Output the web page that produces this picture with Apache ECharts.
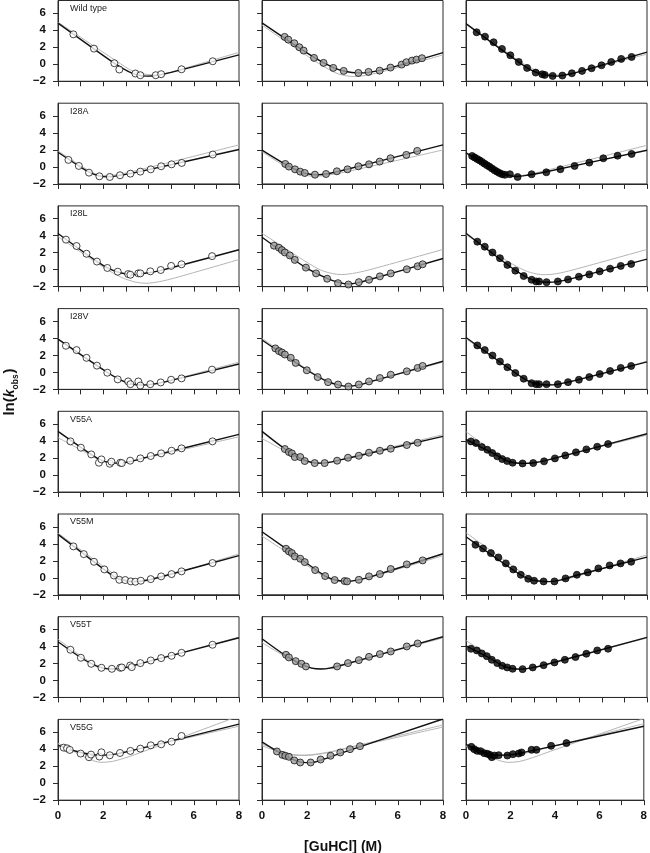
<!DOCTYPE html>
<html><head><meta charset="utf-8">
<script src="https://cdn.jsdelivr.net/npm/echarts@6/dist/echarts.min.js"></script>
<style>html,body{margin:0;padding:0;background:#fff}#c{width:650px;height:853px}</style>
</head><body><div id="c"></div>
<script>
// ---------------- DATA ----------------
const rowLabels = ['Wild type','I28A','I28L','I28V','V55A','V55M','V55T','V55G'];
const xTickValues = [0,1,2,3,4,5,6,7,8];
const xLabelValues = [0,2,4,6,8];
const yTickValues = [-2,0,2,4,6];
const xLabelText = '[GuHCl] (M)';

// Wild type
const WT_x = [
  [0.68,1.59,2.49,2.71,3.42,3.64,4.32,4.56,5.46,6.84],
  [1.0,1.16,1.43,1.65,1.84,2.30,2.72,3.15,3.61,4.26,4.71,5.20,5.68,6.17,6.38,6.63,6.83,7.07],
  [0.47,0.84,1.22,1.59,1.96,2.33,2.70,3.08,3.37,3.48,3.83,4.26,4.68,5.13,5.55,5.99,6.42,6.86,7.32]];
const WT_y = [
  [3.52,1.84,0.12,-0.62,-1.09,-1.29,-1.29,-1.17,-0.59,0.35],
  [3.22,2.90,2.47,2.0,1.61,0.75,0.16,-0.43,-0.78,-1.02,-0.90,-0.75,-0.39,-0.04,0.24,0.43,0.55,0.71],
  [3.76,3.25,2.59,1.80,1.06,0.27,-0.43,-0.98,-1.18,-1.25,-1.37,-1.33,-1.06,-0.78,-0.47,-0.12,0.27,0.63,0.86]];
const WT_fit = [
  [[0,4.84],[2.5,0.1],[3.1,-0.85],[3.5,-1.25],[3.9,-1.4],[4.4,-1.3],[5,-0.95],[8,1.1]],
  [[0,4.86],[2.3,0.8],[3.2,-0.45],[3.7,-0.85],[4.2,-1.02],[4.8,-0.92],[5.5,-0.55],[8,1.37]],
  [[0,4.78],[2.7,-0.43],[3.2,-1.05],[3.6,-1.3],[4.0,-1.4],[4.5,-1.2],[5.1,-0.8],[8,1.42]]];
const WT_gray = [
  [[[0,4.95],[2.6,0.35],[3.3,-0.8],[3.8,-1.15],[4.2,-1.25],[4.7,-1.1],[5.3,-0.7],[8,1.4]]],
  [[[0,4.6],[2.3,0.45],[3.2,-0.95],[3.7,-1.35],[4.1,-1.45],[4.7,-1.25],[5.5,-0.75],[8,1.1]]],
  [[[0,4.7],[2.7,-0.2],[3.3,-0.9],[3.7,-1.2],[4.1,-1.27],[4.6,-1.1],[5.2,-0.75],[8,1.2]]]];

// I28A
const I28A_x = [
  [0.46,0.92,1.37,1.83,2.29,2.74,3.20,3.64,4.10,4.56,5.02,5.47,6.84],
  [1.03,1.19,1.46,1.69,1.89,2.34,2.83,3.31,3.78,4.26,4.73,5.20,5.68,6.38,6.86],
  [0.27,0.38,0.49,0.60,0.71,0.82,0.93,1.04,1.15,1.26,1.37,1.48,1.60,1.72,1.94,2.28,2.90,3.55,4.17,4.80,5.45,6.07,6.70,7.32]];
const I28A_y = [
  [0.83,0.12,-0.67,-1.10,-1.18,-0.98,-0.79,-0.55,-0.28,0.08,0.31,0.47,1.46],
  [0.35,0.04,-0.28,-0.55,-0.71,-0.91,-0.83,-0.51,-0.28,0.08,0.31,0.63,1.02,1.42,1.89],
  [1.29,1.12,0.94,0.78,0.59,0.39,0.20,0.02,-0.18,-0.38,-0.55,-0.72,-0.86,-0.92,-0.86,-1.18,-0.86,-0.63,-0.27,0.12,0.51,1.02,1.33,1.53]];
const I28A_fit = [
  [[0,1.73],[0.9,0.15],[1.4,-0.65],[1.8,-1.05],[2.2,-1.17],[2.7,-1.0],[3.3,-0.72],[8,2.05]],
  [[0,1.97],[1.0,0.35],[1.6,-0.45],[2.0,-0.8],[2.4,-0.93],[2.9,-0.8],[3.5,-0.45],[8,2.6]],
  [[0,1.65],[0.8,0.45],[1.4,-0.55],[1.8,-0.95],[2.2,-1.12],[2.7,-0.98],[3.4,-0.65],[8,1.96]]];
const I28A_gray = [
  [[[0,1.9],[1,0.15],[1.6,-0.75],[2.0,-1.0],[2.5,-0.95],[3.2,-0.6],[8,2.6]]],
  [[[0,1.8],[1.0,0.1],[1.6,-0.7],[2.0,-1.02],[2.4,-1.1],[2.9,-0.95],[3.5,-0.7],[8,2.0]]],
  [[[0,1.6],[0.8,0.4],[1.4,-0.6],[1.8,-0.95],[2.2,-1.05],[2.7,-0.9],[3.4,-0.5],[8,2.55]]]];

// I28L
const I28L_x = [
  [0.35,0.82,1.26,1.72,2.18,2.64,3.10,3.20,3.55,3.64,4.08,4.54,5.0,5.46,6.81],
  [0.53,0.75,0.88,1.01,1.23,1.45,1.94,2.39,2.88,3.36,3.82,4.28,4.73,5.21,5.69,6.40,6.88,7.10],
  [0.50,0.83,1.17,1.50,1.83,2.18,2.55,2.90,3.10,3.23,3.56,4.06,4.51,4.99,5.45,5.91,6.37,6.84,7.30]];
const I28L_y = [
  [3.53,2.78,1.87,0.95,0.20,-0.24,-0.52,-0.60,-0.44,-0.44,-0.20,-0.04,0.44,0.63,1.59],
  [2.82,2.58,2.30,2.02,1.67,1.15,0.24,-0.44,-1.07,-1.59,-1.75,-1.47,-1.19,-0.79,-0.44,0.04,0.40,0.63],
  [3.29,2.70,2.02,1.35,0.56,-0.12,-0.75,-1.19,-1.39,-1.39,-1.47,-1.39,-1.15,-0.83,-0.56,-0.20,0.12,0.44,0.67]];
const I28L_fit = [
  [[0,4.25],[1.7,1.0],[2.3,0.05],[2.8,-0.4],[3.3,-0.58],[3.9,-0.4],[4.6,-0.05],[8,2.34]],
  [[0,3.81],[1.9,0.3],[2.9,-1.05],[3.4,-1.5],[3.8,-1.68],[4.3,-1.5],[5.0,-0.98],[8,1.31]],
  [[0,4.29],[2.2,-0.12],[2.8,-1.05],[3.2,-1.38],[3.6,-1.48],[4.1,-1.38],[4.8,-0.97],[8,1.23]]];
const I28L_gray = [
  [[[0,3.9],[2.0,0.3],[2.8,-0.9],[3.4,-1.45],[3.9,-1.6],[4.5,-1.4],[5.2,-0.95],[8,1.19]]],
  [[[0,4.29],[1.9,1.0],[2.6,-0.05],[3.1,-0.45],[3.5,-0.58],[4.0,-0.45],[4.7,-0.05],[8,2.38]]],
  [[[0,4.1],[1.9,0.9],[2.6,-0.1],[3.1,-0.5],[3.5,-0.6],[4.0,-0.47],[4.7,-0.05],[8,2.38]]]];

// I28V
const I28V_x = [
  [0.35,0.82,1.26,1.72,2.18,2.64,3.10,3.20,3.55,3.64,4.08,4.54,5.0,5.46,6.81],
  [0.59,0.75,0.88,1.01,1.27,1.49,1.98,2.46,2.92,3.36,3.82,4.28,4.73,5.21,5.69,6.40,6.88,7.10],
  [0.50,0.83,1.17,1.50,1.83,2.18,2.55,2.90,3.10,3.23,3.56,4.06,4.51,4.99,5.45,5.91,6.37,6.84,7.30]];
const I28V_y = [
  [3.13,2.62,1.71,0.79,-0.04,-0.83,-1.07,-1.39,-1.07,-1.55,-1.39,-1.19,-0.87,-0.71,0.32],
  [2.82,2.50,2.34,2.10,1.71,1.11,0.24,-0.56,-1.15,-1.43,-1.67,-1.43,-1.07,-0.67,-0.28,0.12,0.52,0.75],
  [3.17,2.62,1.98,1.27,0.60,-0.08,-0.75,-1.27,-1.39,-1.39,-1.39,-1.39,-1.15,-0.87,-0.56,-0.20,0.16,0.52,0.75]];
const I28V_fit = [
  [[0,3.9],[2.2,-0.05],[2.8,-0.95],[3.2,-1.35],[3.7,-1.5],[4.3,-1.35],[5.0,-0.95],[8,0.98]],
  [[0,3.81],[2.0,0.25],[2.9,-1.1],[3.4,-1.5],[3.8,-1.65],[4.3,-1.48],[5.0,-0.95],[8,1.31]],
  [[0,4.1],[2.2,-0.1],[2.8,-1.1],[3.2,-1.4],[3.6,-1.48],[4.1,-1.38],[4.8,-0.98],[8,1.23]]];
const I28V_gray = [
  [[[0,3.95],[2.2,0.0],[2.8,-0.9],[3.2,-1.3],[3.7,-1.45],[4.3,-1.3],[5.0,-0.9],[8,1.2]]],
  [[[0,4.0],[2.0,0.35],[2.9,-1.0],[3.4,-1.45],[3.8,-1.6],[4.3,-1.45],[5.0,-0.95],[8,1.2]]],
  [[[0,3.95],[2.2,-0.05],[2.8,-1.0],[3.2,-1.35],[3.6,-1.45],[4.1,-1.35],[4.8,-0.95],[8,1.3]]]];

// V55A
const V55A_x = [
  [0.55,1.01,1.47,1.81,1.92,2.29,2.36,2.75,2.82,3.19,3.64,4.10,4.56,5.02,5.46,6.83],
  [1.01,1.19,1.32,1.45,1.69,1.89,2.33,2.77,3.32,3.80,4.28,4.73,5.21,5.69,6.40,6.88],
  [0.22,0.44,0.70,0.94,1.16,1.38,1.60,1.82,2.06,2.50,2.97,3.45,3.93,4.39,4.86,5.32,5.80,6.28]];
const V55A_y = [
  [3.96,3.22,2.43,1.45,1.84,1.33,1.57,1.45,1.41,1.69,1.96,2.24,2.55,2.86,3.14,3.96],
  [3.06,2.71,2.55,2.12,2.12,1.65,1.41,1.41,1.69,2.04,2.27,2.63,2.86,3.10,3.53,3.80],
  [3.96,3.76,3.29,2.98,2.59,2.20,1.88,1.65,1.45,1.37,1.41,1.61,1.96,2.31,2.67,3.02,3.33,3.65]];
const V55A_fit = [
  [[0,5.14],[1.4,2.55],[1.9,1.75],[2.3,1.45],[2.7,1.4],[3.2,1.6],[3.8,2.02],[8,4.78]],
  [[0,5.14],[1.0,3.1],[1.7,1.95],[2.2,1.48],[2.6,1.4],[3.1,1.55],[3.8,1.98],[8,4.55]],
  [[0,4.2],[1.2,2.55],[1.8,1.68],[2.2,1.42],[2.6,1.37],[3.1,1.48],[3.8,1.9],[8,4.86]]];
const V55A_gray = [
  [[[0,4.4],[1.4,2.4],[1.9,1.7],[2.3,1.45],[2.7,1.4],[3.2,1.58],[3.8,1.95],[8,4.5]]],
  [[[0,4.3],[1.0,2.85],[1.7,1.85],[2.2,1.45],[2.6,1.4],[3.1,1.58],[3.8,2.05],[8,4.75]]],
  [[[0,5.1],[1.2,2.8],[1.8,1.8],[2.2,1.45],[2.6,1.38],[3.1,1.5],[3.8,1.9],[8,4.7]]]];

// V55M
const V55M_x = [
  [0.68,1.14,1.59,2.05,2.47,2.71,2.97,3.22,3.42,3.66,4.10,4.56,5.02,5.46,6.83],
  [1.06,1.19,1.32,1.45,1.69,1.89,2.35,2.79,3.21,3.65,3.76,4.28,4.73,5.21,5.69,6.40,7.10],
  [0.42,0.75,1.10,1.43,1.76,2.09,2.42,2.75,3.01,3.43,3.91,4.40,4.90,5.38,5.85,6.35,6.83,7.30]];
const V55M_y = [
  [3.69,2.78,1.88,0.98,0.27,-0.24,-0.27,-0.43,-0.47,-0.35,-0.16,0.16,0.43,0.75,1.73],
  [3.41,3.10,2.90,2.51,2.24,1.84,0.90,0.20,-0.27,-0.39,-0.43,-0.24,0.16,0.43,1.02,1.57,2.04],
  [3.88,3.45,2.90,2.39,1.69,0.98,0.35,-0.12,-0.35,-0.43,-0.43,-0.08,0.35,0.63,1.10,1.45,1.69,1.88]];
const V55M_fit = [
  [[0,5.1],[2.0,1.05],[2.6,-0.05],[3.0,-0.35],[3.4,-0.45],[3.9,-0.3],[4.6,0.15],[8,2.6]],
  [[0,5.41],[1.9,1.85],[2.8,0.2],[3.3,-0.3],[3.7,-0.43],[4.2,-0.28],[4.9,0.2],[8,2.82]],
  [[0,4.82],[2.4,0.35],[2.9,-0.25],[3.3,-0.42],[3.7,-0.45],[4.2,-0.25],[4.9,0.3],[8,2.43]]];
const V55M_gray = [
  [[[0,5.25],[2.0,1.35],[2.7,0.05],[3.1,-0.3],[3.5,-0.42],[4.0,-0.3],[4.7,0.15],[8,2.8]]],
  [[[0,4.9],[1.9,1.6],[2.8,0.05],[3.3,-0.35],[3.7,-0.45],[4.2,-0.3],[4.9,0.15],[8,2.6]]],
  [[[0,5.3],[2.4,0.75],[3.0,-0.15],[3.4,-0.4],[3.8,-0.45],[4.3,-0.25],[5.0,0.25],[8,2.7]]]];

// V55T
const V55T_x = [
  [0.55,1.01,1.47,1.92,2.38,2.75,2.82,3.19,3.26,3.64,4.10,4.56,5.02,5.46,6.83],
  [1.06,1.19,1.49,1.74,1.94,3.32,3.80,4.28,4.73,5.21,5.69,6.40,6.88],
  [0.22,0.48,0.70,0.92,1.14,1.38,1.60,1.82,2.06,2.50,2.95,3.43,3.91,4.37,4.84,5.32,5.80,6.28]];
const V55T_y = [
  [3.61,2.67,1.96,1.49,1.37,1.49,1.53,1.76,1.57,2.04,2.35,2.63,2.90,3.25,4.20],
  [3.02,2.71,2.27,1.96,1.65,1.65,2.04,2.39,2.78,3.10,3.41,4.0,4.35],
  [3.73,3.53,3.18,2.86,2.43,2.04,1.73,1.53,1.37,1.33,1.53,1.80,2.12,2.43,2.75,3.14,3.53,3.73]];
const V55T_fit = [
  [[0,4.55],[1.0,2.7],[1.6,1.8],[2.0,1.45],[2.4,1.35],[2.9,1.48],[3.6,1.95],[8,5.02]],
  [[0,4.9],[1.0,3.0],[1.7,1.95],[2.2,1.45],[2.6,1.35],[3.0,1.45],[3.6,1.85],[8,5.14]],
  [[0,4.08],[1.0,2.7],[1.6,1.75],[2.0,1.4],[2.4,1.33],[2.9,1.48],[3.5,1.85],[8,5.06]]];
const V55T_gray = [
  [[[0,4.85],[1.0,2.9],[1.6,1.9],[2.0,1.5],[2.4,1.38],[2.9,1.5],[3.6,1.95],[8,5.1]]],
  [[[0,4.45],[1.0,2.85],[1.7,1.9],[2.2,1.45],[2.6,1.38],[3.0,1.48],[3.6,1.88],[8,5.0]]],
  [[[0,4.7],[1.0,2.95],[1.6,1.9],[2.0,1.48],[2.4,1.35],[2.9,1.48],[3.5,1.85],[8,5.0]]]];

// V55G
const V55G_x = [
  [0.25,0.40,0.52,1.0,1.37,1.46,1.83,1.92,2.29,2.74,3.20,3.64,4.10,4.56,5.02,5.46],
  [0.66,0.90,1.03,1.19,1.43,1.69,2.15,2.59,3.03,3.46,3.89,4.33],
  [0.24,0.37,0.50,0.66,0.82,0.96,1.07,1.16,1.28,1.47,1.86,2.11,2.37,2.50,2.95,3.17,3.83,4.52]];
const V55G_y = [
  [4.18,4.10,3.91,3.48,3.05,3.36,3.13,3.63,3.28,3.55,3.79,4.06,4.45,4.57,4.88,5.55],
  [3.73,3.33,3.22,3.10,2.67,2.43,2.43,2.78,3.22,3.61,4.0,4.35],
  [4.27,4.0,3.80,3.76,3.53,3.45,3.33,3.06,3.25,3.29,3.25,3.41,3.49,3.61,3.92,3.92,4.39,4.71]];
const V55G_fit = [
  [[0,4.45],[0.8,3.75],[1.4,3.4],[2.0,3.3],[2.6,3.45],[3.3,3.85],[8,6.95]],
  [[0,4.86],[0.7,3.7],[1.3,2.85],[1.8,2.45],[2.2,2.42],[2.7,2.8],[3.3,3.35],[8,7.55]],
  [[0,4.55],[0.8,3.65],[1.4,3.3],[2.0,3.35],[2.6,3.62],[3.3,4.0],[8,6.7]]];
const V55G_gray = [
  [[[0,4.7],[0.8,3.6],[1.4,2.8],[1.9,2.45],[2.4,2.55],[3.0,3.0],[3.8,3.75],[8,7.9]],
   [[0,4.5],[1.0,3.55],[1.6,3.2],[2.2,3.25],[3.0,3.7],[8,6.7]]],
  [[[0,4.6],[0.8,3.8],[1.4,3.35],[1.9,3.3],[2.5,3.45],[3.2,3.8],[8,6.85]],
   [[0,4.4],[0.8,3.65],[1.4,3.3],[1.9,3.25],[2.5,3.4],[3.2,3.75],[8,6.6]]],
  [[[0,4.4],[0.8,3.5],[1.4,2.75],[1.9,2.45],[2.4,2.55],[3.0,3.0],[3.8,3.75],[8,7.6]],
   [[0,4.3],[1.0,3.5],[1.7,3.25],[2.4,3.4],[3.2,3.85],[8,7.0]]]];

// ---------------- BUILD ----------------
const rowsData = [
  [WT_x, WT_y, WT_fit, WT_gray],
  [I28A_x, I28A_y, I28A_fit, I28A_gray],
  [I28L_x, I28L_y, I28L_fit, I28L_gray],
  [I28V_x, I28V_y, I28V_fit, I28V_gray],
  [V55A_x, V55A_y, V55A_fit, V55A_gray],
  [V55M_x, V55M_y, V55M_fit, V55M_gray],
  [V55T_x, V55T_y, V55T_fit, V55T_gray],
  [V55G_x, V55G_y, V55G_fit, V55G_gray]];

const FONT = '"Liberation Sans", Arial, Helvetica, sans-serif';
const colLeft = [58, 262, 466];
const panelW = 181, panelH = 80.75, rowStep = 102.7;
const markerFill = ['#ffffff', '#9b9b9b', '#000000'];
const fmt = v => (v < 0 ? '\u2212' + Math.abs(v) : String(v));

const grids = [], xAxes = [], yAxes = [], series = [], graphics = [];
rowsData.forEach((row, r) => {
  const [xs, ys, fits, grays] = row;
  for (let c = 0; c < 3; c++) {
    const idx = r * 3 + c;
    const top = r * rowStep + 0.5;
    grids.push({left: colLeft[c], top: top, width: panelW, height: panelH,
      show: true, borderColor: '#2a2a2a', borderWidth: 1, backgroundColor: 'transparent'});
    xAxes.push({type: 'value', gridIndex: idx, min: 0, max: 8, interval: 1,
      axisLine: {show: true, onZero: false, lineStyle: {color: '#2a2a2a', width: 1}},
      axisTick: {show: true, inside: false, length: 5, customValues: xTickValues, lineStyle: {color: '#2a2a2a'}},
      splitLine: {show: false},
      axisLabel: {show: r === 7, customValues: xLabelValues, formatter: fmt, margin: 10,
        fontFamily: FONT, fontWeight: 'bold', fontSize: 11.5, color: '#111'}});
    yAxes.push({type: 'value', gridIndex: idx, min: -2, max: 7.5, interval: 2,
      axisLine: {show: true, onZero: false, lineStyle: {color: '#2a2a2a', width: 1}},
      axisTick: {show: true, inside: false, length: 5, customValues: yTickValues, lineStyle: {color: '#2a2a2a'}},
      splitLine: {show: false},
      axisLabel: {show: c === 0, customValues: yTickValues, formatter: fmt, margin: 12,
        fontFamily: FONT, fontWeight: 'bold', fontSize: 11.5, color: '#111'}});
    grays[c].forEach(g => series.push({type: 'line', xAxisIndex: idx, yAxisIndex: idx, data: g,
      showSymbol: false, smooth: 0.3, clip: true, z: 1, silent: true,
      lineStyle: {color: '#b4b4b4', width: 1}}));
    series.push({type: 'line', xAxisIndex: idx, yAxisIndex: idx, data: fits[c],
      showSymbol: false, smooth: 0.3, clip: true, z: 2, silent: true,
      lineStyle: {color: '#111', width: 1.4}});
    series.push({type: 'scatter', xAxisIndex: idx, yAxisIndex: idx,
      data: xs[c].map((x, i) => [x, ys[c][i]]),
      symbol: 'circle', symbolSize: 7, z: 3, silent: true,
      itemStyle: {color: markerFill[c], borderColor: '#000', borderWidth: 0.9}});
    if (c === 0) {
      graphics.push({type: 'text', x: 70, y: top + 8, silent: true,
        style: {text: rowLabels[r], fontFamily: FONT, fontSize: 9, fill: '#222',
          align: 'left', verticalAlign: 'middle'}});
    }
  }
});

graphics.push({type: 'text', x: 343, y: 847, silent: true,
  style: {text: xLabelText, fontFamily: FONT, fontSize: 14, fontWeight: 'bold', fill: '#111',
    align: 'center', verticalAlign: 'middle'}});
graphics.push({type: 'text', x: 10, y: 392, rotation: Math.PI / 2, silent: true,
  style: {text: '{a|ln(}{k|k}{s|obs}{a|)}', fontFamily: FONT, align: 'center', verticalAlign: 'middle',
    rich: {
      a: {fontFamily: FONT, fontSize: 15, fontWeight: 'bold', fill: '#111', lineHeight: 20, verticalAlign: 'middle'},
      k: {fontFamily: FONT, fontSize: 14, fontWeight: 'bold', fontStyle: 'italic', fill: '#111', lineHeight: 20, verticalAlign: 'middle'},
      s: {fontFamily: FONT, fontSize: 8.5, fontWeight: 'bold', fill: '#111', lineHeight: 20, verticalAlign: 'bottom', padding: [0, 1, 0, 0]}
    }}});

const chart = echarts.init(document.getElementById('c'), null, {renderer: 'canvas'});
chart.setOption({animation: false, grid: grids, xAxis: xAxes, yAxis: yAxes, series: series, graphic: graphics});
</script></body></html>
